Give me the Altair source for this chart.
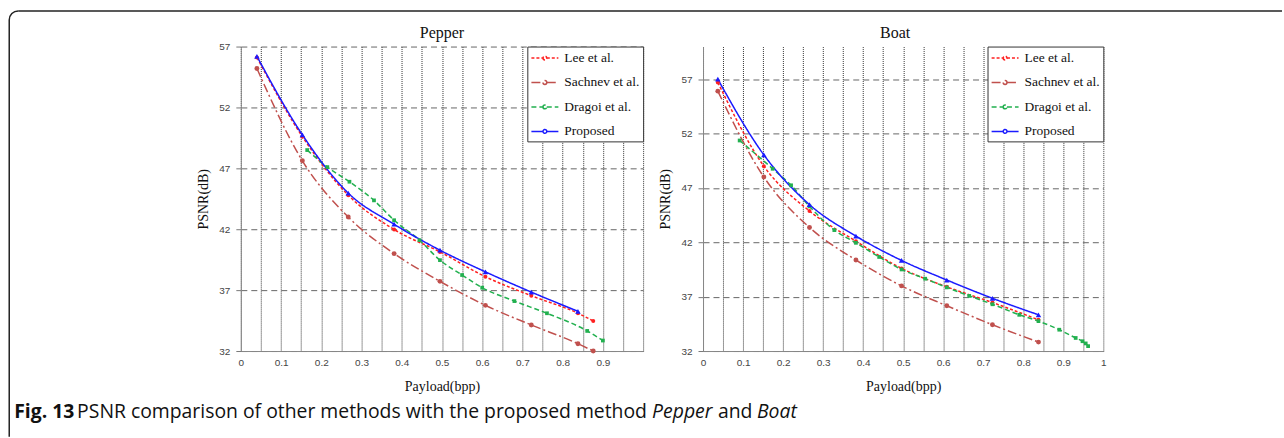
import altair as alt
import pandas as pd

# Methods compared, in legend order, with their line styling
METHODS = ["Lee et al.", "Sachnev et al.", "Dragoi et al.", "Proposed"]
COLORS = ["#ff2020", "#c0504d", "#22b04f", "#1a1aff"]
DASHES = [[3, 2], [9, 3, 2, 3], [5, 3], [1, 0]]
SHAPES = ["circle", "circle", "square", "triangle-up"]
MARK_SIZES = [16, 24, 14, 30]

# ---- Pepper: PSNR (dB) against payload (bpp) ----
pep_lee_x = [0.04, 0.153, 0.267, 0.381, 0.495, 0.608, 0.722, 0.838, 0.876]
pep_lee_y = [56.1, 49.6, 44.8, 41.98, 40.14, 38.1, 36.54, 35.1, 34.47]
pep_sac_x = [0.04, 0.153, 0.267, 0.381, 0.495, 0.608, 0.722, 0.838, 0.876]
pep_sac_y = [55.2, 47.62, 43.0, 40.0, 37.72, 35.75, 34.14, 32.6, 32.0]
pep_dra_x = [0.165, 0.215, 0.27, 0.331, 0.381, 0.444, 0.495, 0.55, 0.6, 0.68, 0.761, 0.861, 0.9]
pep_dra_y = [48.5, 47.1, 45.9, 44.37, 42.74, 41.1, 39.46, 38.24, 37.2, 36.1, 35.1, 33.65, 32.86]
pep_pro_x = [0.04, 0.153, 0.267, 0.381, 0.495, 0.608, 0.722, 0.838]
pep_pro_y = [56.2, 49.75, 44.97, 42.41, 40.28, 38.5, 36.84, 35.26]

# ---- Boat ----
boat_lee_x = [0.037, 0.152, 0.266, 0.382, 0.496, 0.609, 0.723, 0.838]
boat_lee_y = [56.7, 49.0, 44.88, 42.1, 39.6, 37.9, 36.46, 34.87]
boat_sac_x = [0.037, 0.152, 0.266, 0.382, 0.496, 0.609, 0.723, 0.838]
boat_sac_y = [55.9, 48.0, 43.36, 40.37, 37.99, 36.16, 34.42, 32.82]
boat_dra_x = [0.0915, 0.174, 0.22, 0.266, 0.328, 0.382, 0.44, 0.496, 0.555, 0.609,
              0.665, 0.723, 0.79, 0.838, 0.89, 0.931, 0.948, 0.956, 0.962]
boat_dra_y = [51.36, 48.76, 47.24, 45.3, 43.12, 41.95, 40.65, 39.5, 38.65, 37.85,
              37.07, 36.3, 35.33, 34.75, 33.96, 33.2, 32.9, 32.7, 32.45]
boat_pro_x = [0.037, 0.152, 0.266, 0.382, 0.496, 0.609, 0.723, 0.838]
boat_pro_y = [57.0, 50.04, 45.46, 42.57, 40.33, 38.53, 36.85, 35.33]

PSNR_TICKS = [32, 37, 42, 47, 52, 57]
PAYLOAD_TICKS = [round(i * 0.05, 2) for i in range(21)]

CAPTION_BOLD = "Fig. 13"
CAPTION_TEXT = "PSNR comparison of other methods with the proposed method"
CAPTION_IMG1 = "Pepper"
CAPTION_AND = "and"
CAPTION_IMG2 = "Boat"


def long_table(series):
    rows = []
    for name, xs, ys in series:
        for x, y in zip(xs, ys):
            rows.append({"method": name, "payload": x, "psnr": y})
    return pd.DataFrame(rows)


pepper_df = long_table([
    ("Lee et al.", pep_lee_x, pep_lee_y),
    ("Sachnev et al.", pep_sac_x, pep_sac_y),
    ("Dragoi et al.", pep_dra_x, pep_dra_y),
    ("Proposed", pep_pro_x, pep_pro_y),
])
boat_df = long_table([
    ("Lee et al.", boat_lee_x, boat_lee_y),
    ("Sachnev et al.", boat_sac_x, boat_sac_y),
    ("Dragoi et al.", boat_dra_x, boat_dra_y),
    ("Proposed", boat_pro_x, boat_pro_y),
])

SERIF = "Liberation Serif"
SANS = "Liberation Sans"
# legend glyph: a short line with a small ring in the middle
LEGEND_SYMBOL = "M-1.93,0H-0.27M0.27,0H1.93M-0.27,0A0.27,0.27 0 1,0 0.27,0A0.27,0.27 0 1,0 -0.27,0"

one = pd.DataFrame({"k": [0]})


def make_legend():
    return alt.Legend(
        title=None, orient="top-right", offset=0, padding=3.5,
        strokeColor="#333", fillColor="white",
        symbolType=LEGEND_SYMBOL, symbolSize=196, symbolStrokeWidth=1.5,
        symbolOffset=6.1,
        labelFont=SERIF, labelFontSize=13.5, labelColor="#111",
        labelOffset=11.4, rowPadding=9.5,
    )


def panel(df, ydomain, title, width, last_label, title_dx):
    if last_label:
        expr = "round(datum.value * 100) % 10 == 0 ? format(datum.value, '~g') : ''"
    else:
        expr = "(round(datum.value * 100) % 10 == 0 && datum.value < 0.95) ? format(datum.value, '~g') : ''"
    x = alt.X(
        "payload:Q",
        scale=alt.Scale(domain=[0, 1], nice=False, zero=False),
        axis=alt.Axis(
            values=PAYLOAD_TICKS, labelExpr=expr, grid=True, gridDash=[1, 1],
            gridColor="#333", gridWidth=1, ticks=False, domainColor="#888",
            labelFont=SANS, labelFontSize=10, labelColor="#444", labelPadding=7,
            labelOverlap=False, labelFlush=False,
            title="Payload(bpp)", titleFont=SERIF, titleFontSize=14,
            titleFontWeight="normal", titleColor="#111", titlePadding=12,
        ),
    )
    y = alt.Y(
        "psnr:Q",
        scale=alt.Scale(domain=ydomain, nice=False, zero=False),
        axis=alt.Axis(
            values=PSNR_TICKS, grid=True, gridDash=[6, 4], gridColor="#666",
            gridWidth=1, ticks=True, tickColor="#777", tickSize=5,
            domainColor="#888", labelFont=SANS, labelFontSize=10,
            labelColor="#444", labelPadding=6,
            title="PSNR(dB)", titleFont=SERIF, titleFontSize=14,
            titleFontWeight="normal", titleColor="#111", titlePadding=8,
        ),
    )
    lines = alt.Chart(df).mark_line(interpolate="monotone", strokeWidth=1.5).encode(
        x=x, y=y,
        color=alt.Color("method:N", scale=alt.Scale(domain=METHODS, range=COLORS),
                        legend=make_legend()),
        strokeDash=alt.StrokeDash("method:N", scale=alt.Scale(domain=METHODS, range=DASHES),
                                  legend=make_legend()),
    )
    # one marker layer per method, each with its own symbol
    markers = []
    for name, color, shape, size in zip(METHODS, COLORS, SHAPES, MARK_SIZES):
        markers.append(
            alt.Chart(df[df["method"] == name]).mark_point(
                filled=True, opacity=1, shape=shape, size=size, color=color,
            ).encode(x=x, y=y)
        )
    heading = alt.Chart(one).mark_text(
        align="center", baseline="alphabetic", font=SERIF, fontSize=16, color="#111",
    ).encode(x=alt.value(width / 2 + title_dx), y=alt.value(-8.5), text=alt.value(title))
    return [lines, *markers, heading]


# Figure frame (rounded top-left corner) and caption, placed relative to the left panel
frame_top = alt.Chart(one).mark_rule(color="#222", strokeWidth=1.5).encode(
    x=alt.value(-223), x2=alt.value(1043), y=alt.value(-35.7))
frame_left = alt.Chart(one).mark_rule(color="#222", strokeWidth=1.5).encode(
    x=alt.value(-232), y=alt.value(-26.7), y2=alt.value(391))
frame_corner = alt.Chart(one).mark_arc(color="#222").encode(
    x=alt.value(-223), y=alt.value(-26.7), theta=alt.value(4.712389),
    theta2=alt.value(6.283185), radius=alt.value(9.75), radius2=alt.value(8.25))

CAP_Y = 372
CAP_FONT = "Open Sans"
CAP_SIZE = 19.4


def caption_part(text, x, **style):
    return alt.Chart(one).mark_text(
        align="left", baseline="alphabetic", font=CAP_FONT, fontSize=CAP_SIZE,
        color="#111", **style,
    ).encode(x=alt.value(x), y=alt.value(CAP_Y), text=alt.value(text))


caption = [
    caption_part(CAPTION_BOLD, -227, fontWeight="bold"),
    caption_part(CAPTION_TEXT, -164),
    caption_part(CAPTION_IMG1, 412, fontStyle="italic"),
    caption_part(CAPTION_AND, 478),
    caption_part(CAPTION_IMG2, 517, fontStyle="italic"),
]

pepper = alt.layer(
    *panel(pepper_df, [32, 57], "Pepper", 403, False, 0),
    frame_top, frame_left, frame_corner, *caption,
).properties(width=403, height=305)

boat = alt.layer(
    *panel(boat_df, [32, 60], "Boat", 401, True, -8),
).properties(width=401, height=305)

chart = alt.hconcat(pepper, boat, spacing=60, bounds="flush").resolve_scale(
    color="independent", strokeDash="independent",
).properties(
    padding={"left": 7.25, "top": 9.25, "right": 0, "bottom": 0},
    background="white",
).configure_view(stroke="transparent")

chart.save("out.html", embed_options={"renderer": "svg", "actions": False})
